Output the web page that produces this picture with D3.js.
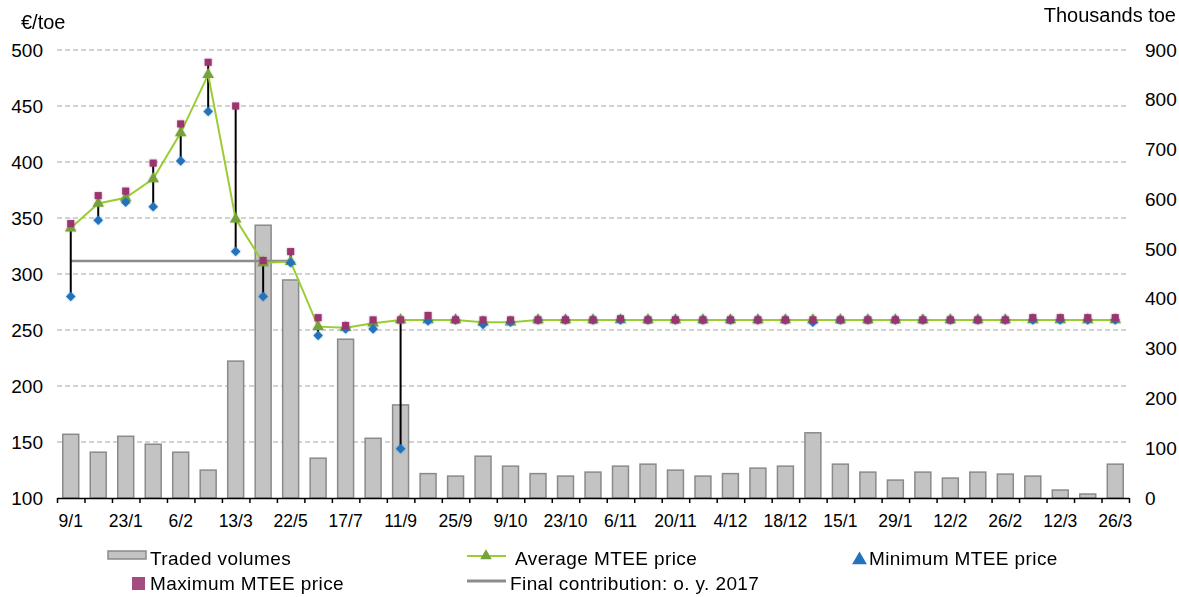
<!DOCTYPE html>
<meta charset="utf-8">
<style>
body { margin: 0; background: #fff; }
svg text { font-family: "Liberation Sans", Arial, sans-serif; fill: #000; }
.legend text { font-size: 19px; letter-spacing: 0.4px; }
</style>
<svg width="1179" height="597"></svg>
<script src="https://d3js.org/d3.v7.min.js"></script>
<script>

// Tick labels (every other week is labelled)
var tickLabels = ["9/1", "23/1", "6/2", "13/3", "22/5", "17/7", "11/9", "25/9", "9/10", "23/10",
                  "6/11", "20/11", "4/12", "18/12", "15/1", "29/1", "12/2", "26/2", "12/3", "26/3"];

// Traded volumes, thousands toe (right axis)
var volumes = [128, 92, 124, 108, 92, 56, 275, 548, 438, 80, 319, 120, 187, 49, 44, 84, 64, 49, 44, 52,
               64, 68, 56, 44, 49, 60, 64, 131, 68, 52, 36, 52, 40, 52, 48, 44, 16, 8, 68];

// MTEE prices, €/toe (left axis)
var avgPrice = [341, 363, 368, 385, 426, 478, 349, 310, 311, 253, 252, 256, 259, 259, 259, 257, 257, 259, 259, 259,
                259, 259, 259, 259, 259, 259, 259, 259, 259, 259, 259, 259, 259, 259, 259, 259, 259, 259, 259];
var minPrice = [280, 348, 364, 360, 401, 445, 320, 280, 310, 245, 251, 251, 144, 258, 259, 255, 257, 259, 259, 259,
                259, 259, 259, 259, 259, 259, 259, 257, 259, 259, 259, 259, 259, 259, 259, 259, 259, 259, 259];
var maxPrice = [345, 370, 374, 399, 434, 489, 450, 312, 320, 261, 254, 259, 259, 263, 259, 259, 259, 259, 259, 259,
                260, 259, 259, 259, 259, 259, 259, 259, 259, 259, 259, 259, 259, 259, 259, 261, 261, 261, 261];

// Final contribution o.y. 2017 (only for the first weeks)
var finalContribution = [311.6, 311.6, 311.6, 311.6, 311.6, 311.6, 311.6, 311.6, 311.6];

var leftTicks = [100, 150, 200, 250, 300, 350, 400, 450, 500];
var rightTicks = [0, 100, 200, 300, 400, 500, 600, 700, 800, 900];

var svg = d3.select("svg");

var plotLeft = 57, plotRight = 1129, plotTop = 50, plotBottom = 498;
var n = volumes.length;

var x = d3.scaleBand()
    .domain(d3.range(n))
    .range([plotLeft, plotRight])
    .paddingInner(0.42)
    .paddingOuter(0.21);

var xEdge = d3.scaleLinear().domain([0, n]).range([plotLeft, plotRight]);

var yL = d3.scaleLinear().domain([100, 500]).range([plotBottom, plotTop]);
var yR = d3.scaleLinear().domain([0, 900]).range([plotBottom, plotTop]);

function cx(i) { return x(i) + x.bandwidth() / 2; }

// glow on markers
var defs = svg.append("defs");
var f = defs.append("filter").attr("id", "glow").attr("x", "-50%").attr("y", "-50%")
    .attr("width", "200%").attr("height", "200%");
f.append("feGaussianBlur").attr("in", "SourceGraphic").attr("stdDeviation", 1.3).attr("result", "b");
f.append("feComponentTransfer").attr("in", "b").attr("result", "b2")
  .append("feFuncA").attr("type", "linear").attr("slope", 0.45);
var fm = f.append("feMerge");
fm.append("feMergeNode").attr("in", "b2");
fm.append("feMergeNode").attr("in", "SourceGraphic");

// gridlines
svg.append("g")
  .selectAll("line")
  .data(leftTicks.filter(function(d) { return d > 100; }))
  .enter().append("line")
    .attr("x1", plotLeft).attr("x2", plotRight)
    .attr("y1", function(d) { return yL(d); })
    .attr("y2", function(d) { return yL(d); })
    .attr("stroke", "#c4c4c4")
    .attr("stroke-width", 1.5)
    .attr("stroke-dasharray", "5,3");

// bars
svg.append("g")
  .selectAll("rect")
  .data(volumes)
  .enter().append("rect")
    .attr("x", function(d, i) { return x(i); })
    .attr("y", function(d) { return yR(d); })
    .attr("width", x.bandwidth())
    .attr("height", function(d) { return yR(0) - yR(d); })
    .attr("fill", "#c2c3c2")
    .attr("stroke", "#8a8a8a")
    .attr("stroke-width", 1.5);

// final contribution
svg.append("path")
    .datum(finalContribution)
    .attr("fill", "none")
    .attr("stroke", "#8c8c8c")
    .attr("stroke-width", 2.5)
    .attr("d", d3.line().x(function(d, i) { return cx(i); }).y(function(d) { return yL(d); }));

// min-max range
svg.append("g")
  .selectAll("line")
  .data(d3.range(n))
  .enter().append("line")
    .attr("x1", cx).attr("x2", cx)
    .attr("y1", function(i) { return yL(minPrice[i]); })
    .attr("y2", function(i) { return yL(maxPrice[i]); })
    .attr("stroke", "#000")
    .attr("stroke-width", 2);

// average line
svg.append("path")
    .datum(avgPrice)
    .attr("fill", "none")
    .attr("stroke", "#9acd32")
    .attr("stroke-width", 2)
    .attr("d", d3.line().x(function(d, i) { return cx(i); }).y(function(d) { return yL(d); }));

var tri = d3.symbol().type(d3.symbolTriangle).size(58);
var dia = d3.symbol().type(d3.symbolDiamond2 || d3.symbolDiamond).size(58);
var sq = d3.symbol().type(d3.symbolSquare).size(50);

svg.append("g").attr("filter", "url(#glow)")
  .selectAll("path")
  .data(avgPrice)
  .enter().append("path")
    .attr("transform", function(d, i) { return "translate(" + cx(i) + "," + yL(d) + ")"; })
    .attr("d", tri)
    .attr("fill", "#76a23c");

svg.append("g").attr("filter", "url(#glow)")
  .selectAll("path")
  .data(minPrice)
  .enter().append("path")
    .attr("transform", function(d, i) { return "translate(" + cx(i) + "," + yL(d) + ")"; })
    .attr("d", dia)
    .attr("fill", "#2472be");

svg.append("g").attr("filter", "url(#glow)")
  .selectAll("path")
  .data(maxPrice)
  .enter().append("path")
    .attr("transform", function(d, i) { return "translate(" + cx(i) + "," + yL(d) + ")"; })
    .attr("d", sq)
    .attr("fill", "#9b3570");

// x axis: line + boundary ticks
var xa = svg.append("g")
    .attr("transform", "translate(0," + plotBottom + ")")
    .call(d3.axisBottom(xEdge).tickValues(d3.range(n + 1)).tickSize(5).tickSizeOuter(0).tickFormat(""));
xa.select(".domain").attr("stroke", "#000").attr("stroke-width", 1.5);
xa.selectAll(".tick line").attr("stroke", "#000").attr("stroke-width", 1.5);

// x labels
var xl = svg.append("g")
    .attr("transform", "translate(0," + plotBottom + ")")
    .call(d3.axisBottom(x)
      .tickValues(d3.range(0, n, 2))
      .tickSize(0)
      .tickPadding(17)
      .tickFormat(function(i) { return tickLabels[i / 2]; }));
xl.select(".domain").remove();
xl.selectAll("text").style("font-size", "17.5px").attr("fill", "#000");

// left axis
var la = svg.append("g")
    .attr("transform", "translate(" + plotLeft + ",0)")
    .call(d3.axisLeft(yL).tickValues(leftTicks).tickSize(0).tickPadding(14));
la.select(".domain").remove();
la.selectAll("text").style("font-size", "19px").attr("fill", "#000");

// right axis
var ra = svg.append("g")
    .attr("transform", "translate(" + plotRight + ",0)")
    .call(d3.axisRight(yR).tickValues(rightTicks).tickSize(0).tickPadding(16));
ra.select(".domain").remove();
ra.selectAll("text").style("font-size", "19px").attr("fill", "#000");

// axis titles
svg.append("text").attr("x", 21).attr("y", 29).style("font-size", "20px").text("€/toe");
svg.append("text").attr("x", 1176).attr("y", 22).attr("text-anchor", "end")
    .style("font-size", "20px").text("Thousands toe");

// legend
var lg = svg.append("g").attr("class", "legend");

lg.append("rect").attr("x", 108).attr("y", 551).attr("width", 38).attr("height", 8)
    .attr("fill", "#c2c3c2").attr("stroke", "#8a8a8a").attr("stroke-width", 1.5);
lg.append("text").attr("x", 150).attr("y", 565).text("Traded volumes");

lg.append("line").attr("x1", 467).attr("x2", 506).attr("y1", 556).attr("y2", 556)
    .attr("stroke", "#9acd32").attr("stroke-width", 2);
lg.append("path").attr("transform", "translate(486,556)").attr("d", tri).attr("fill", "#76a23c");
lg.append("text").attr("x", 515).attr("y", 565).text("Average MTEE price");

lg.append("path").attr("transform", "translate(859.5,560)")
    .attr("d", d3.symbol().type(d3.symbolTriangle).size(95)).attr("fill", "#2472be");
lg.append("text").attr("x", 869).attr("y", 565).text("Minimum MTEE price");

lg.append("rect").attr("x", 132).attr("y", 577).attr("width", 13).attr("height", 13)
    .attr("fill", "#a34c7f");
lg.append("text").attr("x", 150).attr("y", 590).text("Maximum MTEE price");

lg.append("line").attr("x1", 467).attr("x2", 506).attr("y1", 581).attr("y2", 581)
    .attr("stroke", "#8c8c8c").attr("stroke-width", 3);
lg.append("text").attr("x", 510).attr("y", 590).text("Final contribution: o. y. 2017");

</script>
